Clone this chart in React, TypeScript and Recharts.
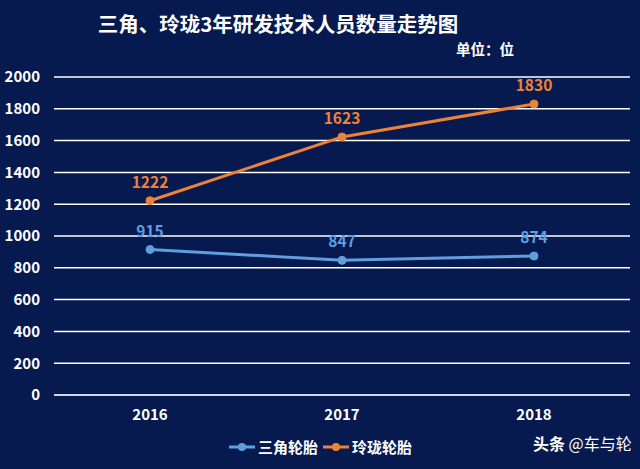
import { CartesianGrid, LabelList, Line, LineChart, XAxis, YAxis } from "recharts";

const years = ["2016", "2017", "2018"];
const sanjiao = [915, 847, 874];
const linglong = [1222, 1623, 1830];
const yTicks = [0, 200, 400, 600, 800, 1000, 1200, 1400, 1600, 1800, 2000];

const data = years.map((year, i) => ({ year, sanjiao: sanjiao[i], linglong: linglong[i] }));

const BG = "#061a4f";
const BLUE = "#609ee0";
const ORANGE = "#ee8236";
const FONT = "'Noto Sans CJK SC', 'Noto Sans', sans-serif";

function LegendItem({ color, label }: { color: string; label: string }) {
  return (
    <span style={{ display: "inline-flex", alignItems: "center", marginRight: 5 }}>
      <svg width={26} height={10} style={{ marginRight: 3 }}>
        <line x1={0} y1={5} x2={26} y2={5} stroke={color} strokeWidth={3} />
        <circle cx={13} cy={5} r={4} fill={color} />
      </svg>
      {label}
    </span>
  );
}

export default function App() {
  return (
    <div
      style={{
        position: "fixed",
        left: 0,
        top: 0,
        width: 640,
        height: 469,
        background: BG,
        fontFamily: FONT,
        color: "#ffffff",
        overflow: "hidden",
      }}
    >
      <div style={{ position: "absolute", left: 0, width: 556, top: 8, textAlign: "center", fontSize: 20.5, fontWeight: 700 }}>
        三角、玲珑3年研发技术人员数量走势图
      </div>
      <div style={{ position: "absolute", left: 456, top: 38, fontSize: 14.5, fontWeight: 700 }}>单位：位</div>

      <LineChart width={640} height={469} data={data} margin={{ top: 77, right: 10, bottom: 44, left: 0 }}>
        <CartesianGrid vertical={false} stroke="#ffffff" strokeWidth={1.5} />
        <XAxis
          dataKey="year"
          height={30}
          padding={{ left: 96, right: 96 }}
          axisLine={{ stroke: "#cfdcf4", strokeWidth: 1.5 }}
          tickLine={false}
          tickMargin={8}
          tick={{ fill: "#ffffff", fontSize: 15, fontWeight: 700, fontFamily: FONT }}
        />
        <YAxis
          width={54}
          domain={[0, 2000]}
          ticks={yTicks}
          interval={0}
          axisLine={false}
          tickLine={false}
          tickMargin={8}
          tick={{ fill: "#ffffff", fontSize: 15, fontWeight: 700, fontFamily: FONT }}
        />
        <Line
          dataKey="sanjiao"
          stroke={BLUE}
          strokeWidth={3}
          dot={{ r: 4, fill: BLUE, stroke: BLUE, strokeWidth: 1 }}
          isAnimationActive={false}
        >
          <LabelList dataKey="sanjiao" position="top" offset={13} fill={BLUE} fontSize={15.5} fontWeight={700} fontFamily={FONT} />
        </Line>
        <Line
          dataKey="linglong"
          stroke={ORANGE}
          strokeWidth={3}
          dot={{ r: 4, fill: ORANGE, stroke: ORANGE, strokeWidth: 1 }}
          isAnimationActive={false}
        >
          <LabelList dataKey="linglong" position="top" offset={13} fill={ORANGE} fontSize={15.5} fontWeight={700} fontFamily={FONT} />
        </Line>
      </LineChart>

      <div style={{ position: "absolute", left: 229, top: 436, fontSize: 15, fontWeight: 700, display: "flex", alignItems: "center" }}>
        <LegendItem color={BLUE} label="三角轮胎" />
        <LegendItem color={ORANGE} label="玲珑轮胎" />
      </div>
      <div style={{ position: "absolute", left: 533, top: 431, fontSize: 16 }}>
        <span style={{ fontWeight: 700 }}>头条</span> @车与轮
      </div>
    </div>
  );
}
